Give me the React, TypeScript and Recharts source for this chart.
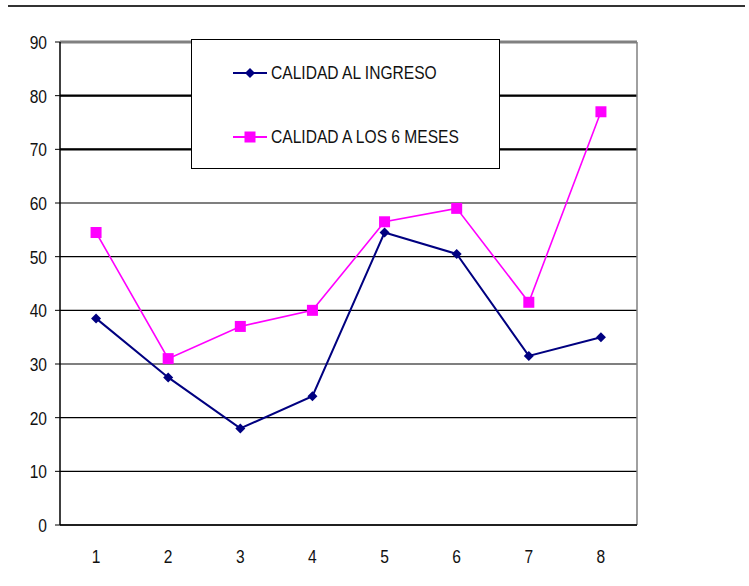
import React from "react";
import {
  LineChart,
  Line,
  XAxis,
  YAxis,
  CartesianGrid,
  ReferenceLine,
  Legend,
} from "recharts";

const categories = [1, 2, 3, 4, 5, 6, 7, 8];
const ingreso = [38.5, 27.5, 18, 24, 54.5, 50.5, 31.5, 35];
const seisMeses = [54.5, 31, 37, 40, 56.5, 59, 41.5, 77];
const yTicks = [0, 10, 20, 30, 40, 50, 60, 70, 80, 90];
const boundaryTicks = [0.5, 1.5, 2.5, 3.5, 4.5, 5.5, 6.5, 7.5, 8.5];
const heavyGrid = [70, 80];

const NAVY = "#000080";
const MAGENTA = "#FF00FF";
const FONT = "'Liberation Sans', Arial, sans-serif";

const data = categories.map((c, i) => ({
  cat: c,
  ingreso: ingreso[i],
  seis: seisMeses[i],
}));

const Diamond = (props: any) => {
  const { cx, cy, index } = props;
  if (cx == null || cy == null) return <g key={`d-${index}`} />;
  return (
    <path
      key={`d-${index}`}
      d={`M${cx},${cy - 5} L${cx + 5},${cy} L${cx},${cy + 5} L${cx - 5},${cy} Z`}
      fill={NAVY}
    />
  );
};

const Square = (props: any) => {
  const { cx, cy, index } = props;
  if (cx == null || cy == null) return <g key={`s-${index}`} />;
  return <rect key={`s-${index}`} x={cx - 5.5} y={cy - 5.5} width={11} height={11} fill={MAGENTA} />;
};

const YTick = (props: any) => {
  const { x, y, payload } = props;
  return (
    <text
      transform={`translate(${x},${y + 7}) scale(0.82,1)`}
      textAnchor="end"
      fontSize={19}
      fontFamily={FONT}
      fill="#111"
    >
      {payload.value}
    </text>
  );
};

const XTick = (props: any) => {
  const { x, y, payload } = props;
  return (
    <text
      transform={`translate(${x},${y + 37}) scale(0.82,1)`}
      textAnchor="middle"
      fontSize={19}
      fontFamily={FONT}
      fill="#111"
    >
      {payload.value}
    </text>
  );
};

const LegendBox = () => (
  <div
    style={{
      width: 307,
      height: 128,
      border: "1px solid #000",
      background: "#fff",
      fontFamily: FONT,
      fontSize: 19,
      color: "#111",
      position: "relative",
    }}
  >
    {[
      { name: "CALIDAD AL INGRESO", color: NAVY, shape: "diamond", top: 33 },
      { name: "CALIDAD A LOS 6 MESES", color: MAGENTA, shape: "square", top: 97 },
    ].map((it) => (
      <div key={it.name} style={{ position: "absolute", left: 41, top: it.top - 11, height: 22 }}>
        <svg width={36} height={22} style={{ position: "absolute", left: 0, top: 0 }}>
          <line x1={0} y1={11} x2={34} y2={11} stroke={it.color} strokeWidth={2} />
          {it.shape === "diamond" ? (
            <path d="M17,6 L22,11 L17,16 L12,11 Z" fill={it.color} />
          ) : (
            <rect x={11.5} y={5.5} width={11} height={11} fill={it.color} />
          )}
        </svg>
        <span
          style={{
            position: "absolute",
            left: 38,
            top: 0,
            whiteSpace: "nowrap",
            lineHeight: "22px",
            transform: "scaleX(0.82)",
            transformOrigin: "left center",
          }}
        >
          {it.name}
        </span>
      </div>
    ))}
  </div>
);

export default function App() {
  return (
    <div style={{ position: "absolute", left: 0, top: 0, width: 749, height: 586, background: "#fff" }}>
      <div
        style={{
          position: "absolute",
          left: 8,
          top: 5,
          width: 737,
          height: 2,
          background: "#333",
        }}
      />
      <LineChart
        width={749}
        height={586}
        data={data}
        margin={{ top: 42, right: 112, bottom: 0, left: 0 }}
      >
        <CartesianGrid vertical={false} stroke="#000" strokeWidth={1.2} strokeDasharray="" />
        <XAxis
          xAxisId="bound"
          dataKey="cat"
          type="number"
          domain={[0.5, 8.5]}
          ticks={boundaryTicks}
          tick={false}
          tickSize={6}
          height={1}
          axisLine={{ stroke: "#000", strokeWidth: 1.5 }}
          tickLine={{ stroke: "#000", strokeWidth: 1 }}
        />
        <XAxis
          xAxisId="main"
          dataKey="cat"
          type="number"
          domain={[0.5, 8.5]}
          ticks={categories}
          tick={<XTick />}
          tickSize={0}
          tickMargin={0}
          height={60}
          axisLine={false}
          tickLine={false}
          interval={0}
        />
        <YAxis
          domain={[0, 90]}
          ticks={yTicks}
          width={60}
          tickSize={5}
          tickMargin={8}
          tick={<YTick />}
          axisLine={{ stroke: "#000", strokeWidth: 1.5 }}
          tickLine={{ stroke: "#000" }}
          interval={0}
        />
        {heavyGrid.map((v) => (
          <ReferenceLine key={v} xAxisId="main" y={v} stroke="#000" strokeWidth={2.2} />
        ))}
        <ReferenceLine xAxisId="main" y={90} stroke="#808080" strokeWidth={3} />
        <ReferenceLine xAxisId="main" x={8.5} stroke="#808080" strokeWidth={1.5} />
        <Legend
          content={<LegendBox />}
          layout="vertical"
          align="center"
          verticalAlign="middle"
          wrapperStyle={{ position: "absolute", left: 191, top: 39, width: 309, height: 130 }}
        />
        <Line
          xAxisId="main"
          dataKey="ingreso"
          stroke={NAVY}
          strokeWidth={2}
          dot={Diamond}
          activeDot={false}
          isAnimationActive={false}
        />
        <Line
          xAxisId="main"
          dataKey="seis"
          stroke={MAGENTA}
          strokeWidth={1.6}
          dot={Square}
          activeDot={false}
          isAnimationActive={false}
        />
      </LineChart>
    </div>
  );
}
